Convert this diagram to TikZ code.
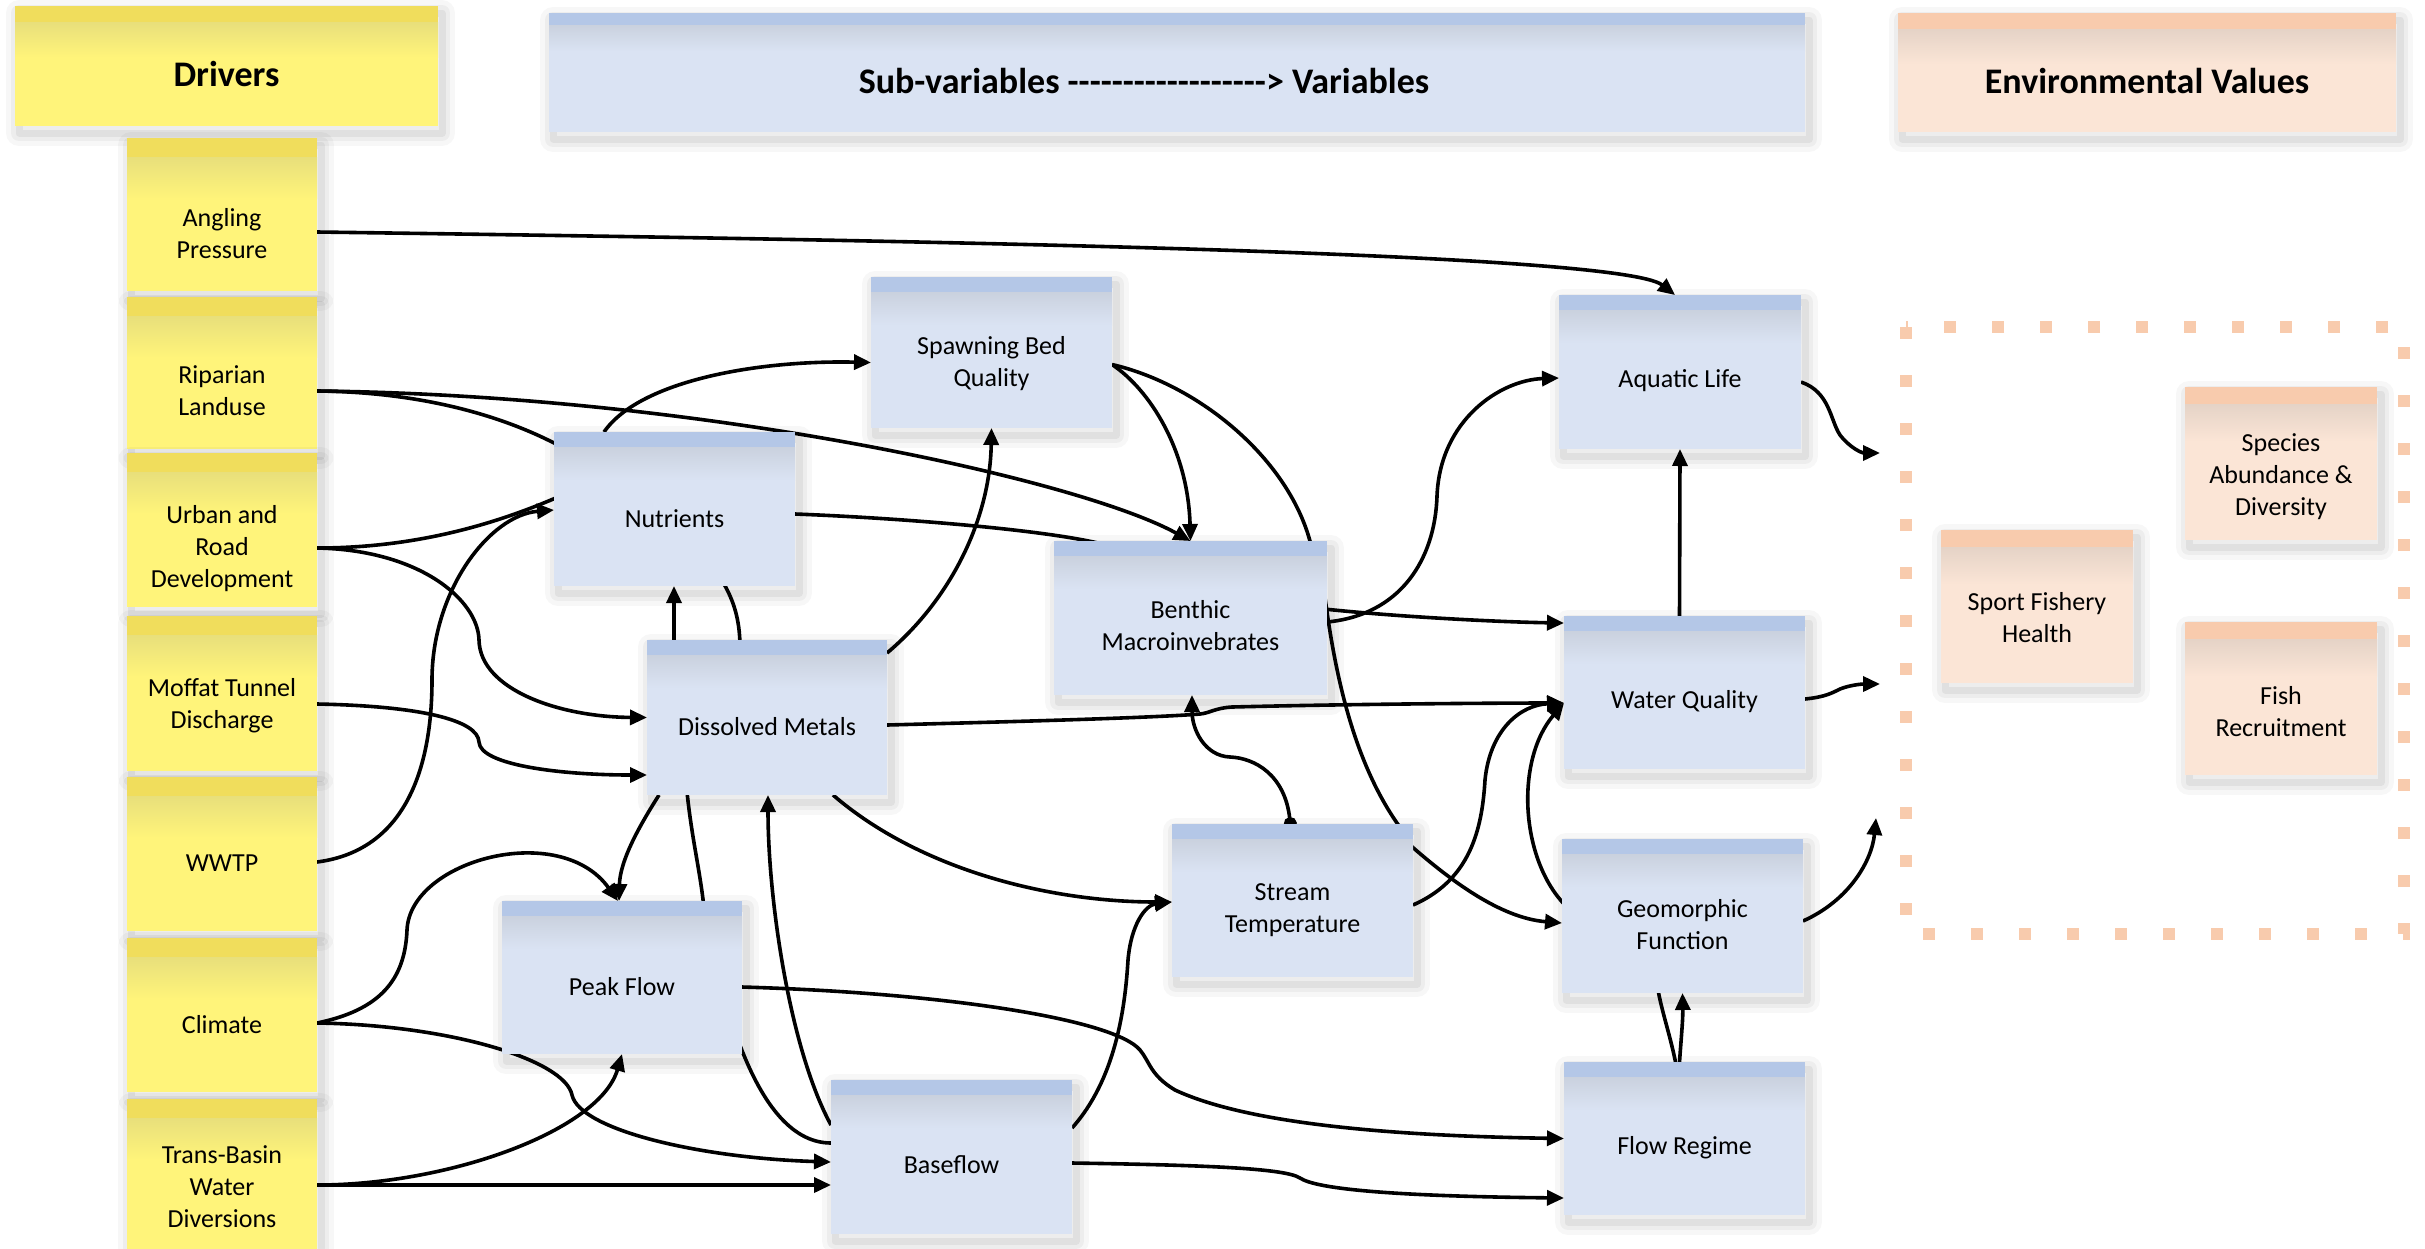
\documentclass[tikz,border=0pt]{standalone}
\usepackage{fontspec}
\setmainfont{Carlito}
\usetikzlibrary{arrows.meta}
\definecolor{yband}{RGB}{240,221,92}
\definecolor{ybody}{RGB}{255,244,122}
\definecolor{bband}{RGB}{180,199,231}
\definecolor{bbody}{RGB}{218,227,243}
\definecolor{pband}{RGB}{248,203,173}
\definecolor{pbody}{RGB}{251,229,214}
\newcommand\hyp{-\kern0pt}
\newcommand\notefill[3]{%
  \fill[#1] (path picture bounding box.north west) rectangle ([yshift=-#3]path picture bounding box.north east);
  \shade[top color=#2!82!gray, bottom color=#2] ([yshift=-#3]path picture bounding box.north west) rectangle ([yshift=-#3*3.2]path picture bounding box.north east);}
\newcommand\stk[8]{\node[#1, minimum width=#5pt, minimum height=#6pt, label={[lbl, yshift=-#8pt]center:#7}] (#2) at (#3,#4) {};}
\pgfdeclarelayer{back}
\pgfdeclarelayer{lines}
\pgfsetlayers{back,lines,main}
\tikzset{
  notebase/.style={rectangle, inner sep=0pt, outer sep=0pt, anchor=north west,
    preaction={draw=black, draw opacity=0.03, line width=26pt, line join=round, transform canvas={xshift=4pt,yshift=-7pt}},
    preaction={draw=black, draw opacity=0.04, line width=16pt, line join=round, transform canvas={xshift=4pt,yshift=-7pt}},
    preaction={draw=black, draw opacity=0.05, line width=7pt, line join=round, transform canvas={xshift=4pt,yshift=-7pt}}},
  ynote/.style={notebase, fill=ybody, path picture={\notefill{yband}{ybody}{#1}}}, ynote/.default=19pt,
  bnote/.style={notebase, fill=bbody, path picture={\notefill{bband}{bbody}{#1}}}, bnote/.default=15pt,
  pnote/.style={notebase, fill=pbody, path picture={\notefill{pband}{pbody}{#1}}}, pnote/.default=17pt,
  lbl/.style={font=\fontsize{26}{32}\selectfont, align=center, inner sep=0pt},
  hlbl/.style={font=\fontsize{36}{44}\selectfont\bfseries, inner sep=0pt},
  ln/.style={line width=3.6pt, black, line join=round},
  ar/.style={ln, -{Triangle[length=17pt,width=15pt]}},
}
\begin{document}
\begin{tikzpicture}[x=1pt, y=-1pt]
\useasboundingbox (0,0) rectangle (2425,1248);
\begin{pgfonlayer}{back}
\fill[white] (0,0) rectangle (2425,1248);
\end{pgfonlayer}

% headers
\node[ynote=16pt, minimum width=423pt, minimum height=120pt, label={[hlbl, yshift=-8pt]center:Drivers}] (hdrv) at (15,6) {};
\node[bnote=12pt, minimum width=1256pt, minimum height=119pt, label={[hlbl, yshift=-8pt, xshift=-33pt]center:Sub-variables \hyp\hyp\hyp\hyp\hyp\hyp\hyp\hyp\hyp\hyp\hyp\hyp\hyp\hyp\hyp\hyp\hyp\hyp> Variables}] (hsub) at (549,13) {};
\node[pnote=16pt, minimum width=498pt, minimum height=119pt, label={[hlbl, yshift=-8pt]center:Environmental Values}] (henv) at (1898,13) {};

% drivers
\stk{ynote}{ap}{127}{138}{190}{153}{Angling\\Pressure}{19.5}
\stk{ynote}{rl}{127}{297}{190}{152}{Riparian\\Landuse}{18}
\stk{ynote}{ur}{127}{453}{190}{154}{Urban and\\Road\\Development}{19}
\stk{ynote}{mo}{127}{616}{190}{155}{Moffat Tunnel\\Discharge}{12.5}
\stk{ynote}{ww}{127}{777}{190}{154}{WWTP}{9}
\stk{ynote}{cl}{127}{938}{190}{154}{Climate}{10}
\stk{ynote}{tb}{127}{1099}{190}{154}{Trans-Basin\\Water\\Diversions}{11}

% sub-variables / variables
\stk{bnote}{nut}{554}{432}{241}{154}{Nutrients}{10}
\stk{bnote}{sbq}{871}{277}{241}{151}{Spawning Bed\\Quality}{11}
\stk{bnote}{dm}{647}{640}{240}{155}{Dissolved Metals}{9}
\stk{bnote}{ben}{1054}{541}{273}{154}{Benthic\\Macroinvebrates}{8}
\stk{bnote}{al}{1559}{295}{242}{154}{Aquatic Life}{9}
\stk{bnote}{wq}{1564}{616}{241}{153}{Water Quality}{9}
\stk{bnote}{gf}{1562}{839}{241}{154}{Geomorphic\\Function}{9}
\stk{bnote}{fr}{1564}{1062}{241}{153}{Flow Regime}{9}
\stk{bnote}{st}{1172}{824}{241}{153}{Stream\\Temperature}{10}
\stk{bnote}{pf}{502}{901}{240}{153}{Peak Flow}{9}
\stk{bnote}{bf}{831}{1080}{241}{154}{Baseflow}{8}

% environmental values
\draw[pband, line width=12pt, dash pattern=on 12pt off 36pt] (1906,327) rectangle (2404,934);
\stk{pnote}{sfh}{1941}{530}{192}{153}{Sport Fishery\\Health}{11}
\stk{pnote}{sad}{2185}{387}{192}{153}{Species\\Abundance \&\\Diversity}{13}
\stk{pnote}{fish}{2185}{622}{192}{153}{Fish\\Recruitment}{13}

\coordinate (e1) at (1880,453);
\coordinate (e2) at (1880,684);
\coordinate (e3) at (1876,818);

\begin{pgfonlayer}{lines}
% drivers
\draw[ar] ([yshift=-17.5pt]ap.east) .. controls (900,240) and (1620,252) .. ([xshift=-5pt]al.north);
\draw[ln] ([yshift=-18pt]rl.east) .. controls (420,392) and (500,415) .. (556,444) -- (724,584) .. controls (736,605) and (740,625) .. (740,648) -- (687,792) .. controls (692,840) and (700,870) .. (704,908) -- (738,1040) .. controls (760,1100) and (790,1143) .. ([yshift=14pt]bf.west);
\draw[ar] ([yshift=-18pt]rl.east) .. controls (700,395) and (1080,480) .. (ben.north);
\draw[ln] ([yshift=-18pt]ur.east) .. controls (420,548) and (500,522) .. ([xshift=4pt,yshift=12pt]nut.west);
\draw[ar] ([yshift=-18pt]ur.east) .. controls (420,550) and (478,600) .. (479,640) .. controls (480,690) and (560,717) .. (dm.west);
\draw[ar] ([yshift=-10.5pt]mo.east) .. controls (420,706) and (478,720) .. (479,742) .. controls (480,765) and (560,775) .. ([yshift=-57.5pt]dm.west);
\draw[ar] ([yshift=-8pt]ww.east) .. controls (410,850) and (432,760) .. (432,680) .. controls (432,590) and (490,515) .. ([yshift=-1pt]nut.west);
\draw[ar] ([yshift=-8pt]cl.east) .. controls (380,1010) and (405,980) .. (407,930) .. controls (410,860) and (560,820) .. ([xshift=-4pt]pf.north);
\draw[ar] ([yshift=-8pt]cl.east) .. controls (450,1025) and (565,1060) .. (572,1095) .. controls (580,1130) and (700,1158) .. ([yshift=-5pt]bf.west);
\draw[ar] ([yshift=-9pt]tb.east) -- ([yshift=-28pt]bf.west);
\draw[ar] ([yshift=-9pt]tb.east) .. controls (450,1185) and (600,1130) .. (pf.south);
% sub-variables
\draw[ar] ([xshift=27pt]dm.north west) -- ([xshift=27pt]dm.north west |- nut.south);
\draw[ar] ([yshift=-13pt]dm.north east) .. controls (950,600) and (990,520) .. (sbq.south);
\draw[ar] ([yshift=-7.5pt]dm.east) .. controls (1000,722) and (1150,718) .. (1200,714) .. controls (1210,713) and (1215,708) .. (1232,707) .. controls (1350,704) and (1500,703) .. ([yshift=-10.5pt]wq.west);
\draw[ar] ([xshift=-54pt]dm.south east) .. controls (920,870) and (1050,902) .. ([yshift=-1.5pt]st.west);
\draw[ar] ([xshift=12pt]dm.south west) .. controls (640,825) and (620,860) .. ([xshift=-3pt]pf.north);
\draw[ar] ([yshift=-45pt]bf.north west) .. controls (790,1050) and (768,900) .. ([xshift=1pt]dm.south);
\draw[ar] ([xshift=50pt]nut.north west) .. controls (640,380) and (760,360) .. ([yshift=-10pt]sbq.west);
\draw[ar] ([yshift=-5pt]nut.east) .. controls (900,518) and (1050,530) .. (1106,545) -- (1324,609) .. controls (1400,617) and (1500,622) .. ([yshift=-7pt]wq.north west);
\draw[ar] ([yshift=-12pt]sbq.east) .. controls (1150,390) and (1188,450) .. (ben.north);
\draw[ar] ([yshift=-12pt]sbq.east) .. controls (1200,385) and (1290,460) .. (1311,545) -- (1324,590) .. controls (1333,660) and (1350,760) .. (1402,830) -- (1410,845) .. controls (1450,880) and (1500,918) .. ([yshift=-7pt]gf.west);
\draw[ln, {Circle[length=13pt]}-{Triangle[length=17pt,width=15pt]}] ([xshift=-1.5pt,yshift=-6pt]st.north) .. controls (1285,775) and (1255,758) .. (1230,757) .. controls (1205,756) and (1192,730) .. ([xshift=1.5pt]ben.south);
\draw[ar] ([yshift=-4.5pt]st.east) .. controls (1470,880) and (1482,830) .. (1485,780) .. controls (1490,730) and (1520,705) .. ([yshift=-10.5pt]wq.west);
\draw[ar] ([xshift=-9pt]fr.north) .. controls (1670,1035) and (1662,1012) .. (1658,990) -- (1566,906) .. controls (1520,860) and (1515,760) .. ([yshift=-10.5pt]wq.west);
\draw[ar] ([xshift=-5pt]fr.north) .. controls (1681,1040) and (1683,1020) .. (gf.south);
\draw[ar] ([yshift=-4pt]ben.east) .. controls (1400,615) and (1435,560) .. (1437,496) .. controls (1440,420) and (1500,380) .. ([yshift=-6pt]al.west);
\draw[ar] ([xshift=-5pt]wq.north) -- (al.south);
\draw[ar] ([yshift=-9.5pt]pf.east) .. controls (950,993) and (1115,1020) .. (1140,1050) .. controls (1150,1062) and (1150,1075) .. (1175,1090) .. controls (1250,1125) and (1400,1136) .. (fr.west);
\draw[ar] ([yshift=-6pt]bf.east) .. controls (1200,1165) and (1285,1168) .. (1300,1178) .. controls (1315,1188) and (1380,1196) .. ([yshift=-59.5pt]fr.west);
\draw[ar] ([yshift=29pt]bf.east) .. controls (1115,1080) and (1125,1010) .. (1128,960) .. controls (1131,925) and (1145,905) .. ([yshift=-1.5pt]st.west);
% to environmental values
\draw[ar] ([yshift=-10pt]al.east) .. controls (1830,392) and (1830,420) .. (1840,435) .. controls (1850,448) and (1862,453) .. (e1);
\draw[ar] ([yshift=-6.5pt]wq.east) .. controls (1825,697) and (1832,693) .. (1840,689) .. controls (1850,685) and (1862,684) .. (e2);
\draw[ar] ([yshift=-5pt]gf.east) .. controls (1850,900) and (1872,860) .. (e3);
\end{pgfonlayer}
\end{tikzpicture}
\end{document}
